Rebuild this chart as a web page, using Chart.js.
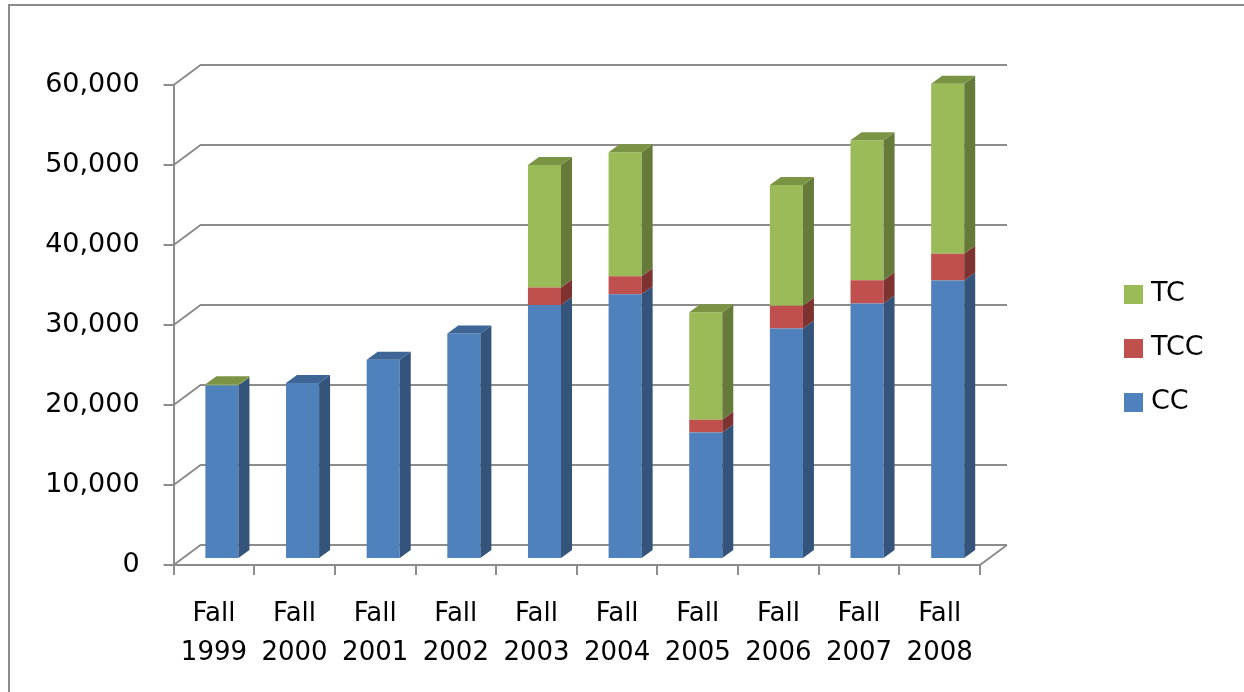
<!DOCTYPE html>
<html>
<head>
<meta charset="utf-8">
<script src="https://cdn.jsdelivr.net/npm/chart.js@4.4.0/dist/chart.umd.min.js"></script>
<style>
  html, body { margin: 0; padding: 0; background: #fff; }
  #wrap { position: relative; width: 1244px; height: 692px; overflow: hidden; }
  #frame {
    position: absolute; left: 8px; top: 4px; right: -4px; bottom: -4px;
    border-top: 2px solid #8c8c8c; border-left: 2px solid #8c8c8c;
    pointer-events: none;
  }
</style>
</head>
<body>
<div id="wrap">
  <canvas id="chart" width="1244" height="692"></canvas>
  <div id="frame"></div>
</div>
<script>
// data
const categories = [
  ['Fall', '1999'], ['Fall', '2000'], ['Fall', '2001'], ['Fall', '2002'], ['Fall', '2003'],
  ['Fall', '2004'], ['Fall', '2005'], ['Fall', '2006'], ['Fall', '2007'], ['Fall', '2008']
];
const ccValues  = [21700, 22000, 24900, 28200, 31750, 33100, 15800, 28800, 31950, 34800];
const tccValues = [0, 0, 0, 0, 2200, 2250, 1600, 2850, 2900, 3350];
const tcValues  = [150, 0, 0, 0, 15300, 15500, 13450, 15100, 17500, 21250];
const yTicks = [0, 10000, 20000, 30000, 40000, 50000, 60000];

// colours: front / side / top
const colors = {
  CC:  ['#4f81bd', '#34547c', '#3d6596'],
  TCC: ['#c0504d', '#7e3331', '#9a3f3d'],
  TC:  ['#9bbb59', '#667b3a', '#7a9444']
};

const gridColor = '#8c8c8c';
const fontFamily = '"DejaVu Sans", sans-serif';
const wall = { dx: 27, dy: 20 };   // back wall offset from the front plane
const shift = { dx: 8, dy: 6 };    // bar plane offset
const side = { dx: 11, dy: 8 };    // bar depth

const threeD = {
  id: 'threeD',
  beforeDatasetsDraw(chart) {
    const ctx = chart.ctx;
    const area = chart.chartArea;
    const yScale = chart.scales.y;
    ctx.save();
    ctx.strokeStyle = gridColor;
    ctx.lineWidth = 2;
    yScale.ticks.forEach(t => {
      const y = yScale.getPixelForValue(t.value);
      ctx.beginPath();
      ctx.moveTo(area.left, y);
      ctx.lineTo(area.left + wall.dx, y - wall.dy);
      ctx.lineTo(area.right + wall.dx, y - wall.dy);
      ctx.stroke();
    });
    // floor, right edge
    ctx.beginPath();
    ctx.moveTo(area.right, area.bottom);
    ctx.lineTo(area.right + wall.dx, area.bottom - wall.dy);
    ctx.stroke();
    ctx.restore();

    // bars sit a little behind the front plane
    ctx.save();
    ctx.translate(shift.dx, -shift.dy);
  },
  afterDatasetsDraw(chart) {
    const ctx = chart.ctx;
    const sets = chart.data.datasets;
    const n = chart.data.labels.length;
    for (let i = 0; i < n; i++) {
      let topEl = null, topIdx = -1;
      sets.forEach((ds, d) => {
        if (!ds.data[i]) return;
        const el = chart.getDatasetMeta(d).data[i];
        const p = el.getProps(['x', 'y', 'base', 'width'], true);
        const xr = p.x + p.width / 2;
        ctx.fillStyle = colors[ds.label][1];
        ctx.beginPath();
        ctx.moveTo(xr, p.y);
        ctx.lineTo(xr + side.dx, p.y - side.dy);
        ctx.lineTo(xr + side.dx, p.base - side.dy);
        ctx.lineTo(xr, p.base);
        ctx.closePath();
        ctx.fill();
        topEl = p; topIdx = d;
      });
      if (topEl) {
        const xl = topEl.x - topEl.width / 2, xr = topEl.x + topEl.width / 2;
        ctx.fillStyle = colors[sets[topIdx].label][2];
        ctx.beginPath();
        ctx.moveTo(xl, topEl.y);
        ctx.lineTo(xl + side.dx, topEl.y - side.dy);
        ctx.lineTo(xr + side.dx, topEl.y - side.dy);
        ctx.lineTo(xr, topEl.y);
        ctx.closePath();
        ctx.fill();
      }
    }
    ctx.restore();
  },
  afterDraw(chart) {
    // legend, top series first
    const ctx = chart.ctx;
    const sets = chart.data.datasets;
    ctx.save();
    ctx.font = '27px ' + fontFamily;
    ctx.textBaseline = 'middle';
    ctx.textAlign = 'left';
    let row = 0;
    for (let d = sets.length - 1; d >= 0; d--) {
      const cy = 294 + row * 54;
      ctx.fillStyle = colors[sets[d].label][0];
      ctx.fillRect(1124, cy - 9, 19, 19);
      ctx.fillStyle = '#000';
      ctx.fillText(sets[d].label, 1151, cy);
      row++;
    }
    ctx.restore();
  }
};

new Chart(document.getElementById('chart'), {
  type: 'bar',
  data: {
    labels: categories,
    datasets: [
      { label: 'CC', data: ccValues, backgroundColor: colors.CC[0] },
      { label: 'TCC', data: tccValues, backgroundColor: colors.TCC[0] },
      { label: 'TC', data: tcValues, backgroundColor: colors.TC[0] }
    ]
  },
  options: {
    responsive: false,
    animation: false,
    devicePixelRatio: 1,
    clip: false,
    layout: { padding: { top: 85, right: 264, left: 0, bottom: 0 } },
    datasets: { bar: { barPercentage: 0.41, categoryPercentage: 1, borderWidth: 0 } },
    plugins: { legend: { display: false }, tooltip: { enabled: false } },
    scales: {
      x: {
        stacked: true,
        grid: { drawOnChartArea: false, color: gridColor, lineWidth: 2, tickLength: 10 },
        border: { color: gridColor, width: 2 },
        ticks: { color: '#000', padding: 20, maxRotation: 0, font: { family: fontFamily, size: 26, lineHeight: 1.5 } },
        afterFit(scale) { scale.height = 127; }
      },
      y: {
        stacked: true,
        min: 0,
        max: 60000,
        afterBuildTicks(scale) { scale.ticks = yTicks.map(v => ({ value: v })); },
        grid: { drawOnChartArea: false, color: gridColor, lineWidth: 2, tickLength: 10 },
        border: { color: gridColor, width: 2 },
        ticks: {
          color: '#000', padding: 24,
          font: { family: fontFamily, size: 27 },
          callback: v => v.toLocaleString('en-US')
        },
        afterFit(scale) { scale.width = 173.6; }
      }
    }
  },
  plugins: [threeD]
});
</script>
</body>
</html>
